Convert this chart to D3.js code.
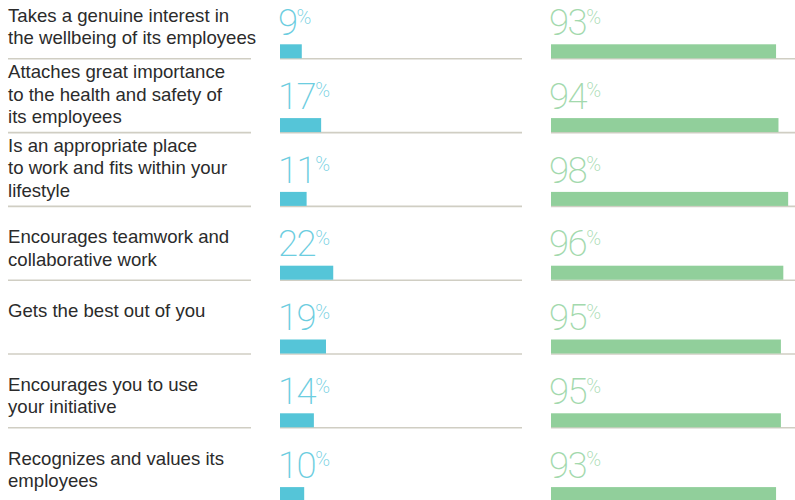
<!DOCTYPE html>
<html>
<head>
<meta charset="utf-8">
<script src="https://cdn.jsdelivr.net/npm/d3@7"></script>
<style>
  html, body { margin: 0; padding: 0; background: #ffffff; }
  svg { display: block; }
</style>
</head>
<body>
<svg id="chart" width="795" height="500"></svg>
<script>
const categories = [
  "Takes a genuine interest in\nthe wellbeing of its employees",
  "Attaches great importance\nto the health and safety of\nits employees",
  "Is an appropriate place\nto work and fits within your\nlifestyle",
  "Encourages teamwork and\ncollaborative work",
  "Gets the best out of you",
  "Encourages you to use\nyour initiative",
  "Recognizes and values its\nemployees"
];
const seriesA = [9, 17, 11, 22, 19, 14, 10];
const seriesB = [93, 94, 98, 96, 95, 95, 93];

const svg = d3.select("#chart");
const W = 795;

const y = d3.scaleBand().domain(d3.range(categories.length)).range([-15.5, 501.1]).padding(0);
const xA = d3.scaleLinear().domain([0, 100]).range([280, 522]);
const xB = d3.scaleLinear().domain([0, 100]).range([551, 793]);

const rows = categories.map((c, i) => ({ label: c, a: seriesA[i], b: seriesB[i], i }));

const g = svg.selectAll("g.row").data(rows).join("g").attr("class", "row");

const barH = 14;
const lineColor = "#d0cec3";

// separator lines
const seps = [[8, 251], [280, 522], [551, W]];
g.each(function(d) {
  const gg = d3.select(this);
  const bottom = y(d.i) + y.bandwidth();
  seps.forEach(s => {
    gg.append("line")
      .attr("x1", s[0]).attr("x2", s[1])
      .attr("y1", bottom + 0.5).attr("y2", bottom + 0.5)
      .attr("stroke", lineColor).attr("stroke-width", 1.6);
  });
});

// labels
g.append("text")
  .attr("font-family", "'Liberation Sans', Arial, Helvetica, sans-serif")
  .attr("font-size", 18.6)
  .attr("fill", "#2b2b2b")
  .each(function(d) {
    const lines = d.label.split("\n");
    const top = y(d.i);
    const first = top + (lines.length >= 3 ? 19.8 : 37.5);
    d3.select(this).selectAll("tspan").data(lines).join("tspan")
      .attr("x", 8)
      .attr("y", (l, k) => first + k * 22.4)
      .text(l => l);
  });

// bars
g.append("rect")
  .attr("x", xA(0))
  .attr("y", d => y(d.i) + y.bandwidth() - barH)
  .attr("width", d => xA(d.a) - xA(0))
  .attr("height", barH)
  .attr("fill", "#55c5d8");

g.append("rect")
  .attr("x", xB(0))
  .attr("y", d => y(d.i) + y.bandwidth() - barH)
  .attr("width", d => xB(d.b) - xB(0))
  .attr("height", barH)
  .attr("fill", "#91cf9b");

// big numbers
function bigNumber(sel, xs, key, color) {
  const t = sel.append("text")
    .attr("x", xs(0) - 2)
    .attr("y", d => y(d.i) + y.bandwidth() - 23.3)
    .attr("font-family", "Roboto, 'Liberation Sans', sans-serif")
    .attr("font-weight", 200)
    .attr("fill", color);
  t.append("tspan").attr("font-size", 36.5).attr("letter-spacing", -1.5).text(d => d[key]);
  t.append("tspan").attr("font-size", 20).attr("dy", -11.5).attr("dx", 0).text("%");
}
bigNumber(g, xA, "a", "#6ccde0");
bigNumber(g, xB, "b", "#a3d9ad");
</script>
</body>
</html>
